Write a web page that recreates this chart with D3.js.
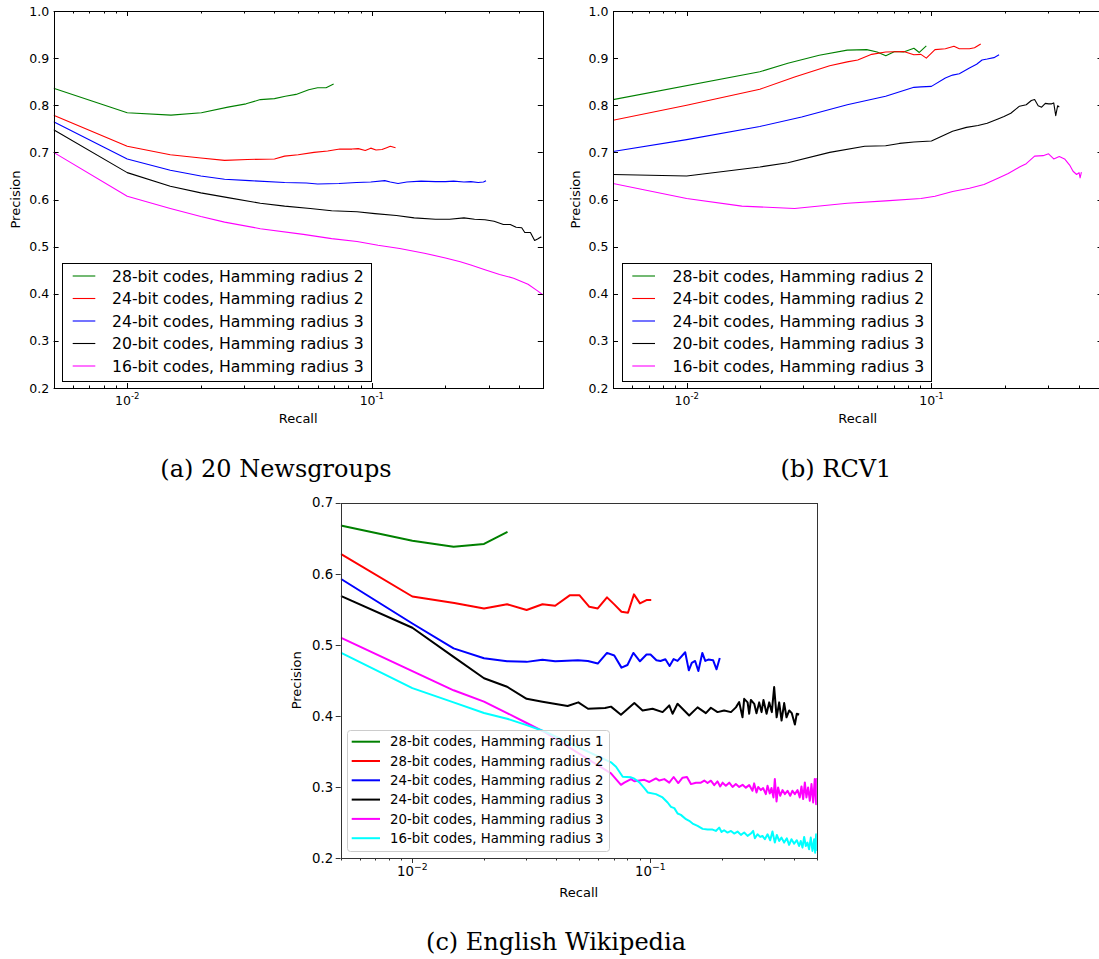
<!DOCTYPE html>
<html><head><meta charset="utf-8">
<script src="https://cdn.jsdelivr.net/npm/d3@7"></script>
<style>
body{margin:0;background:#fff;}
svg text{font-family:"DejaVu Sans",sans-serif;}
</style></head>
<body><svg id="c" width="1099" height="959"></svg>
<script>
// ---------- DATA ----------
const xTickValues = [0.01, 0.1];
const xTickExponents = ["-2", "-1"];
const yTicksAB = [0.2,0.3,0.4,0.5,0.6,0.7,0.8,0.9,1.0];
const yTicksC = [0.2,0.3,0.4,0.5,0.6,0.7];

const labelsAB = ["28-bit codes, Hamming radius 2","24-bit codes, Hamming radius 2","24-bit codes, Hamming radius 3","20-bit codes, Hamming radius 3","16-bit codes, Hamming radius 3"];
const labelsC = ["28-bit codes, Hamming radius 1","28-bit codes, Hamming radius 2","24-bit codes, Hamming radius 2","24-bit codes, Hamming radius 3","20-bit codes, Hamming radius 3","16-bit codes, Hamming radius 3"];
const captions = ["(a) 20 Newsgroups","(b) RCV1","(c) English Wikipedia"];

// (a) 20 Newsgroups  [recall, precision]
const news28r2 = [[0.005,0.836],[0.01,0.784],[0.0151,0.779],[0.0201,0.784],[0.0258,0.796],[0.0306,0.803],[0.035,0.812],[0.040,0.814],[0.0443,0.819],[0.049,0.823],[0.0552,0.833],[0.060,0.837],[0.065,0.837],[0.0698,0.845]];
const news24r2 = [[0.005,0.779],[0.01,0.713],[0.015,0.695],[0.02,0.688],[0.025,0.683],[0.031,0.685],[0.040,0.686],[0.044,0.692],[0.05,0.695],[0.058,0.700],[0.066,0.703],[0.074,0.707],[0.083,0.707],[0.088,0.708],[0.094,0.704],[0.099,0.709],[0.104,0.705],[0.11,0.706],[0.115,0.710],[0.119,0.713],[0.125,0.710]];
const news24r3 = [[0.005,0.765],[0.01,0.686],[0.015,0.662],[0.02,0.650],[0.025,0.643],[0.0316,0.640],[0.044,0.636],[0.054,0.635],[0.06,0.633],[0.0734,0.634],[0.0867,0.636],[0.099,0.637],[0.113,0.640],[0.119,0.637],[0.128,0.634],[0.139,0.637],[0.159,0.639],[0.182,0.638],[0.20,0.638],[0.216,0.639],[0.238,0.637],[0.254,0.638],[0.272,0.636],[0.286,0.637],[0.293,0.640]];
const news20r3 = [[0.005,0.748],[0.01,0.657],[0.015,0.628],[0.02,0.614],[0.0258,0.604],[0.035,0.592],[0.044,0.586],[0.056,0.581],[0.0685,0.576],[0.087,0.574],[0.103,0.570],[0.126,0.566],[0.149,0.561],[0.182,0.558],[0.208,0.558],[0.238,0.561],[0.263,0.558],[0.29,0.557],[0.316,0.554],[0.345,0.547],[0.368,0.547],[0.389,0.541],[0.41,0.540],[0.422,0.530],[0.445,0.530],[0.463,0.513],[0.476,0.516],[0.493,0.521]];
const news16r3 = [[0.005,0.700],[0.01,0.607],[0.015,0.581],[0.02,0.564],[0.025,0.552],[0.035,0.538],[0.0525,0.526],[0.0685,0.517],[0.087,0.511],[0.106,0.503],[0.13,0.496],[0.164,0.486],[0.2,0.476],[0.23,0.468],[0.254,0.461],[0.29,0.451],[0.333,0.441],[0.38,0.433],[0.435,0.420],[0.476,0.406],[0.5,0.398]];

// (b) RCV1
const rcv28r2 = [[0.005,0.812],[0.0199,0.871],[0.0259,0.889],[0.0348,0.906],[0.0453,0.917],[0.0544,0.918],[0.060,0.913],[0.0651,0.905],[0.0708,0.914],[0.077,0.913],[0.0848,0.921],[0.0892,0.912],[0.0953,0.926]];
const rcv24r2 = [[0.005,0.768],[0.01,0.800],[0.0199,0.834],[0.0276,0.860],[0.0384,0.884],[0.0453,0.892],[0.05,0.896],[0.057,0.908],[0.065,0.913],[0.077,0.914],[0.0848,0.907],[0.0906,0.908],[0.0953,0.900],[0.1034,0.918],[0.114,0.920],[0.1236,0.925],[0.13,0.920],[0.143,0.920],[0.15,0.922],[0.159,0.930]];
const rcv24r3 = [[0.005,0.702],[0.01,0.727],[0.0199,0.755],[0.0295,0.775],[0.0453,0.801],[0.065,0.819],[0.0848,0.838],[0.0906,0.839],[0.1,0.840],[0.114,0.858],[0.122,0.864],[0.13,0.867],[0.143,0.879],[0.153,0.887],[0.161,0.896],[0.169,0.898],[0.18,0.901],[0.189,0.907]];
const rcv20r3 = [[0.005,0.653],[0.01,0.650],[0.0199,0.669],[0.0259,0.678],[0.0384,0.700],[0.0534,0.713],[0.065,0.714],[0.074,0.719],[0.0848,0.722],[0.1,0.724],[0.122,0.745],[0.139,0.753],[0.155,0.757],[0.169,0.762],[0.187,0.771],[0.198,0.776],[0.211,0.783],[0.229,0.798],[0.244,0.801],[0.256,0.810],[0.264,0.812],[0.273,0.799],[0.282,0.796],[0.292,0.804],[0.301,0.803],[0.31,0.803],[0.316,0.805],[0.322,0.778],[0.328,0.799],[0.333,0.796]];
const rcv16r3 = [[0.005,0.634],[0.01,0.602],[0.0168,0.586],[0.0276,0.581],[0.0453,0.592],[0.065,0.597],[0.0906,0.602],[0.1034,0.607],[0.122,0.617],[0.143,0.624],[0.164,0.632],[0.187,0.645],[0.206,0.655],[0.229,0.669],[0.244,0.676],[0.264,0.692],[0.286,0.693],[0.301,0.697],[0.316,0.686],[0.333,0.691],[0.35,0.686],[0.367,0.673],[0.379,0.660],[0.392,0.653],[0.401,0.657],[0.405,0.646],[0.41,0.658]];

// (c) English Wikipedia
const wiki28r1 = [[0.005,0.668],[0.01,0.6465],[0.0149,0.638],[0.02,0.642],[0.0251,0.659]];
const wiki28r2 = [[0.005,0.628],[0.01,0.568],[0.015,0.559],[0.02,0.551],[0.025,0.557],[0.0302,0.549],[0.0352,0.557],[0.0398,0.555],[0.0458,0.5696],[0.0504,0.5696],[0.0554,0.5535],[0.0601,0.5512],[0.0657,0.5668],[0.0705,0.5569],[0.0756,0.5465],[0.0805,0.5451],[0.0853,0.571],[0.0904,0.5583],[0.0963,0.563],[0.1008,0.563]];
const wiki24r2 = [[0.005,0.593],[0.01,0.530],[0.0149,0.495],[0.02,0.481],[0.025,0.477],[0.0302,0.476],[0.0352,0.479],[0.0398,0.477],[0.0423,0.4773],[0.0496,0.4782],[0.0546,0.4773],[0.0601,0.4736],[0.0657,0.4886],[0.0705,0.4849],[0.0756,0.4679],[0.0801,0.4716],[0.0848,0.4886],[0.0904,0.4768],[0.0963,0.4863],[0.1001,0.4863],[0.106,0.4782],[0.1102,0.4773],[0.1156,0.4797],[0.1204,0.4702],[0.1252,0.48],[0.130,0.4773],[0.140,0.4895],[0.145,0.4641],[0.1492,0.4745],[0.1541,0.4773],[0.159,0.4632],[0.1652,0.4886],[0.170,0.4773],[0.175,0.4792],[0.1835,0.4782],[0.1896,0.4655],[0.1956,0.4815]];
const wiki24r3 = [[0.005,0.569],[0.01,0.524],[0.0149,0.483],[0.02,0.453],[0.025,0.441],[0.0302,0.424],[0.0352,0.420],[0.0449,0.414],[0.0498,0.419],[0.0547,0.410],[0.0645,0.411],[0.0683,0.413],[0.0752,0.4015],[0.0856,0.418],[0.0927,0.4076],[0.1021,0.410],[0.1125,0.4053],[0.120,0.4147],[0.1239,0.403],[0.130,0.417],[0.1455,0.4006],[0.1578,0.412],[0.171,0.4038],[0.1795,0.4114],[0.1914,0.4053],[0.204,0.4076],[0.218,0.4053],[0.2286,0.412],[0.236,0.4194],[0.2437,0.398],[0.2477,0.424],[0.256,0.419],[0.260,0.403],[0.2643,0.4225],[0.273,0.417],[0.279,0.4038],[0.2864,0.419],[0.293,0.4053],[0.2985,0.4225],[0.3076,0.403],[0.3155,0.419],[0.3236,0.4053],[0.331,0.4405],[0.339,0.398],[0.3475,0.419],[0.3556,0.3935],[0.3647,0.418],[0.373,0.398],[0.383,0.4076],[0.3926,0.4038],[0.4045,0.3878],[0.412,0.403],[0.4215,0.402]];
const wiki20r3 = [[0.005,0.510],[0.01,0.463],[0.0149,0.436],[0.02,0.420],[0.025,0.404],[0.0302,0.390],[0.036,0.377],[0.0683,0.319],[0.0752,0.303],[0.0777,0.306],[0.0829,0.311],[0.0856,0.308],[0.0899,0.309],[0.0943,0.310],[0.0990,0.307],[0.1055,0.312],[0.109,0.309],[0.1144,0.311],[0.120,0.306],[0.1252,0.314],[0.1309,0.3055],[0.1365,0.313],[0.1424,0.314],[0.148,0.304],[0.1553,0.306],[0.163,0.306],[0.1684,0.309],[0.1738,0.3055],[0.1795,0.3088],[0.1854,0.3026],[0.1914,0.3078],[0.1964,0.3007],[0.201,0.306],[0.2074,0.3017],[0.2143,0.306],[0.2214,0.300],[0.2285,0.304],[0.236,0.300],[0.2439,0.303],[0.2517,0.299],[0.260,0.3026],[0.2684,0.2946],[0.2728,0.305],[0.2791,0.2923],[0.2837,0.300],[0.2911,0.2956],[0.2976,0.2984],[0.3054,0.2899],[0.3105,0.3017],[0.3173,0.2909],[0.3225,0.2984],[0.3288,0.2852],[0.3332,0.3111],[0.3387,0.2796],[0.3439,0.2993],[0.3509,0.2876],[0.3588,0.2956],[0.367,0.2899],[0.3767,0.2946],[0.3866,0.2876],[0.3951,0.2946],[0.4043,0.2899],[0.415,0.2956],[0.4241,0.2852],[0.4311,0.3007],[0.4383,0.2829],[0.4454,0.3064],[0.4523,0.2852],[0.4597,0.2993],[0.4673,0.2805],[0.4749,0.3040],[0.4827,0.2781],[0.4902,0.3111],[0.4968,0.2758],[0.5,0.3125]];
const wiki16r3 = [[0.005,0.489],[0.01,0.439],[0.0149,0.419],[0.02,0.404],[0.025,0.396],[0.0302,0.387],[0.036,0.378],[0.0683,0.3347],[0.0717,0.3285],[0.0765,0.3144],[0.0829,0.3135],[0.0856,0.3116],[0.0899,0.3064],[0.0943,0.2984],[0.0974,0.2923],[0.1055,0.2899],[0.1125,0.2852],[0.1181,0.2781],[0.122,0.272],[0.126,0.2702],[0.1301,0.2626],[0.1343,0.2607],[0.1411,0.2546],[0.1455,0.2523],[0.1504,0.2485],[0.1578,0.2452],[0.1657,0.241],[0.1738,0.24],[0.1825,0.24],[0.1883,0.2381],[0.1945,0.2428],[0.199,0.2367],[0.204,0.2391],[0.2109,0.2358],[0.218,0.2381],[0.2248,0.2344],[0.2323,0.2372],[0.24,0.2325],[0.2477,0.2358],[0.2559,0.2311],[0.2643,0.2344],[0.2702,0.2381],[0.2747,0.2278],[0.2818,0.2334],[0.2892,0.2297],[0.2956,0.2311],[0.3025,0.2264],[0.3105,0.2334],[0.3186,0.225],[0.3256,0.2372],[0.3332,0.2217],[0.3396,0.2325],[0.3475,0.224],[0.3553,0.2287],[0.3645,0.2217],[0.3741,0.2278],[0.3825,0.2184],[0.3914,0.2264],[0.4016,0.2202],[0.4121,0.225],[0.4212,0.2169],[0.4281,0.224],[0.4353,0.2146],[0.4424,0.2297],[0.4496,0.2169],[0.4566,0.2217],[0.4641,0.2122],[0.4717,0.2287],[0.4795,0.2099],[0.4874,0.2264],[0.492,0.2075],[0.4968,0.2334],[0.5,0.2099]];

// ---------- STYLE ----------
const colorsAB = ["#008000","#ff0000","#0000ff","#000000","#ff00ff"];
const colorsC = ["#008000","#ff0000","#0000ff","#000000","#ff00ff","#00ffff"];

const svg = d3.select("#c");

function drawPanel(o){
  const x = d3.scaleLog().domain([0.005,0.5]).range([o.left,o.right]);
  const y = d3.scaleLinear().domain(o.yDomain).range([o.bottom,o.top]);
  const g = svg.append("g");
  const clipId = "clip"+o.id;
  g.append("clipPath").attr("id",clipId).append("rect")
    .attr("x",o.left).attr("y",o.top-2).attr("width",o.right-o.left).attr("height",o.bottom-o.top+4);
  const line = d3.line().x(d=>x(d[0])).y(d=>y(d[1]));
  g.append("g").attr("clip-path",`url(#${clipId})`).selectAll("path").data(o.series).join("path")
    .attr("d",d=>line(d)).attr("fill","none")
    .attr("stroke",(d,i)=>o.colors[i]).attr("stroke-width",o.lw).attr("stroke-linejoin","round");

  const classic = o.classic;
  const minors = [];
  [0.001,0.01,0.1].forEach(b=>{for(let k=2;k<=9;k++){const v=b*k; if(v>=0.005&&v<=0.5) minors.push(v);}});
  const dirIn = classic ? 1 : -1;
  const tickCol = classic ? "#000" : "#333";
  const ax = g.append("g").attr("stroke",tickCol).attr("stroke-width",1);
  const xs = [[xTickValues,5],[minors,2.5]];
  xs.forEach(([vals,len])=>{
    vals.forEach(v=>{
      const px = Math.round(x(v))+0.5;
      ax.append("line").attr("x1",px).attr("x2",px).attr("y1",o.bottom).attr("y2",o.bottom-dirIn*len);
      if(classic) ax.append("line").attr("x1",px).attr("x2",px).attr("y1",o.top).attr("y2",o.top+len);
    });
  });
  o.yTicks.forEach(v=>{
    const py = Math.round(y(v))+0.5;
    ax.append("line").attr("y1",py).attr("y2",py).attr("x1",o.left).attr("x2",o.left+dirIn*5);
    if(classic) ax.append("line").attr("y1",py).attr("y2",py).attr("x1",o.right).attr("x2",o.right-5);
  });
  g.append("rect").attr("x",Math.round(o.left)+0.5).attr("y",Math.round(o.top)+0.5)
    .attr("width",Math.round(o.right)-Math.round(o.left)).attr("height",Math.round(o.bottom)-Math.round(o.top))
    .attr("fill","none").attr("stroke",tickCol).attr("stroke-width",1);

  g.selectAll("text.yt").data(o.yTicks).join("text").attr("class","yt")
    .attr("x",o.left-(classic?4.5:7.5)).attr("y",d=>y(d)).attr("dy","0.36em")
    .attr("text-anchor","end").attr("font-size",o.tickFs).attr("fill","#000")
    .text(d=>d.toFixed(1));
  xTickValues.forEach((v,i)=>{
    const t = g.append("text").attr("x",x(v)).attr("y",o.bottom+o.xlabDy)
      .attr("text-anchor","middle").attr("font-size",o.tickFs).attr("fill","#000");
    t.append("tspan").text("10");
    t.append("tspan").attr("dy",classic?-6:-6.5).attr("font-size",o.supFs)
      .text(classic ? xTickExponents[i] : xTickExponents[i].replace("-","\u2212"));
  });
  g.append("text").attr("x",(o.left+o.right)/2).attr("y",o.bottom+o.titleDy)
    .attr("text-anchor","middle").attr("font-size",13).text("Recall");
  g.append("text").attr("transform",`translate(${o.ylabX},${(o.top+o.bottom)/2}) rotate(-90)`)
    .attr("text-anchor","middle").attr("font-size",13).text("Precision");

  const L = o.legend;
  const lg = g.append("g");
  lg.append("rect").attr("x",L.x+0.5).attr("y",L.y+0.5).attr("width",L.w).attr("height",L.h)
    .attr("rx",classic?0:3).attr("fill","#fff").attr("fill-opacity",classic?1:0.8)
    .attr("stroke",classic?"#000":"#cccccc").attr("stroke-width",1);
  o.labels.forEach((lab,i)=>{
    const cy = L.row0 + i*L.dy;
    lg.append("line").attr("x1",L.hx0).attr("x2",L.hx1).attr("y1",cy).attr("y2",cy)
      .attr("stroke",o.colors[i]).attr("stroke-width",o.lw);
    lg.append("text").attr("x",L.tx).attr("y",cy).attr("dy","0.36em")
      .attr("font-size",L.fs).attr("fill","#000").text(lab);
  });
}

drawPanel({id:"a",left:53.6,right:542.8,top:11,bottom:388,yDomain:[0.2,1.0],yTicks:yTicksAB,
  series:[news28r2,news24r2,news24r3,news20r3,news16r3],colors:colorsAB,labels:labelsAB,
  classic:true,lw:1.1,tickFs:12.5,supFs:8.5,xlabDy:17,titleDy:35,ylabX:20,
  legend:{x:62,y:263,w:309,h:118,row0:276,dy:22.5,hx0:72.7,hx1:95.3,tx:112,fs:15.7}});
drawPanel({id:"b",left:613,right:1102.5,top:11,bottom:388,yDomain:[0.2,1.0],yTicks:yTicksAB,
  series:[rcv28r2,rcv24r2,rcv24r3,rcv20r3,rcv16r3],colors:colorsAB,labels:labelsAB,
  classic:true,lw:1.1,tickFs:12.5,supFs:8.5,xlabDy:17,titleDy:35,ylabX:580,
  legend:{x:622,y:263,w:309,h:118,row0:276,dy:22.5,hx0:632.3,hx1:655,tx:672.5,fs:15.7}});
drawPanel({id:"c",left:340.7,right:816.8,top:502.7,bottom:858,yDomain:[0.2,0.7],yTicks:yTicksC,
  series:[wiki28r1,wiki28r2,wiki24r2,wiki24r3,wiki20r3,wiki16r3],colors:colorsC,labels:labelsC,
  classic:false,lw:2,tickFs:13.3,supFs:9.3,xlabDy:18,titleDy:39,ylabX:301,
  legend:{x:347,y:730,w:262,h:121,row0:741.7,dy:19.3,hx0:351.7,hx1:380,tx:390,fs:13.3}});

const capPos = [[276,477],[836,477],[556,950]];
svg.selectAll("text.cap").data(captions).join("text").attr("class","cap")
  .attr("x",(d,i)=>capPos[i][0]).attr("y",(d,i)=>capPos[i][1])
  .attr("text-anchor","middle").attr("font-size",24)
  .style("font-family","'DejaVu Serif',serif").text(d=>d);
</script></body></html>
